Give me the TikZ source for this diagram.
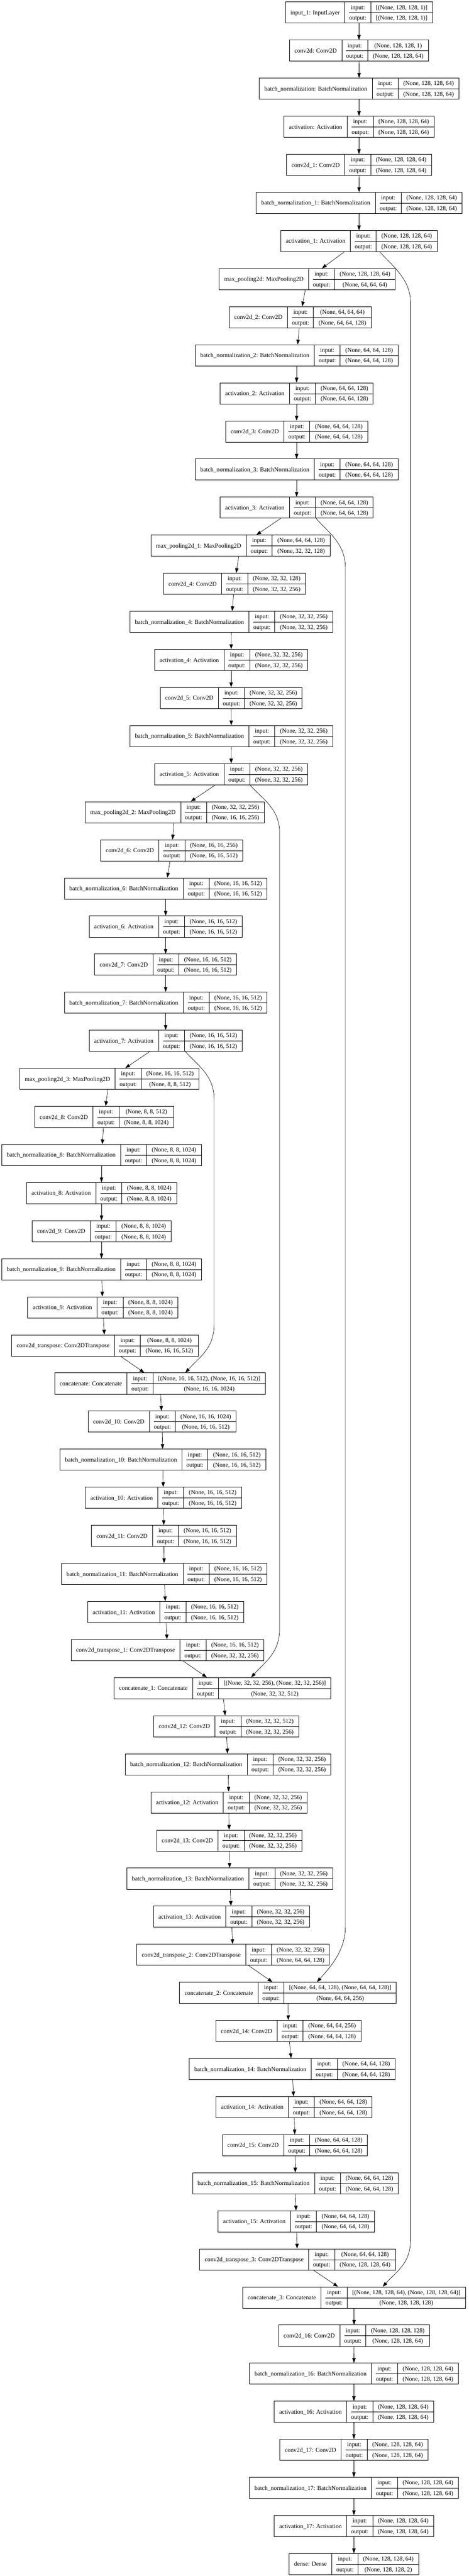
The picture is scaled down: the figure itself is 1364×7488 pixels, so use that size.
\documentclass[tikz,border=0pt]{standalone}
\usepackage{fontspec}
\setmainfont{Liberation Serif}
\usepackage{tikz}
\usetikzlibrary{arrows.meta}
\setlength{\arrayrulewidth}{1pt}
\newcommand{\rowstrut}{\rule[-9.35pt]{0pt}{30.75pt}}
\newcommand{\layerbox}[3]{%
  \renewcommand{\arraystretch}{0}%
  \begin{tabular}{@{\hspace{14.7pt}}c@{\hspace{14.7pt}}|@{\hspace{12.4pt}}c@{\hspace{12.4pt}}|@{\hspace{14.7pt}}c@{\hspace{14.7pt}}}
    \raisebox{-15.375pt}[0pt][0pt]{#1} & input: & #2\rowstrut\\ \cline{2-3}
    & output: & #3\rowstrut
  \end{tabular}}
\tikzset{
  layer/.style={draw, line width=1.3pt, inner sep=0pt, font=\fontsize{17.65}{20}\selectfont},
  edge/.style={line width=1pt, -{Triangle[length=14pt,width=10pt]}}
}
\begin{document}
\begin{tikzpicture}[x=1pt,y=-1pt]
\path[use as bounding box, fill=white] (0,0) rectangle (1364,7488);

\node[layer] (inp) at (1044.3,36.5) {\layerbox{input\_1: InputLayer}{[(None, 128, 128, 1)]}{[(None, 128, 128, 1)]}};
\node[layer] (conv0) at (1044.3,147.2) {\layerbox{conv2d: Conv2D}{(None, 128, 128, 1)}{(None, 128, 128, 64)}};
\node[layer] (bn0) at (1044.7,257.9) {\layerbox{batch\_normalization: BatchNormalization}{(None, 128, 128, 64)}{(None, 128, 128, 64)}};
\node[layer] (act0) at (1044.3,368.6) {\layerbox{activation: Activation}{(None, 128, 128, 64)}{(None, 128, 128, 64)}};
\node[layer] (conv1) at (1044.3,479.3) {\layerbox{conv2d\_1: Conv2D}{(None, 128, 128, 64)}{(None, 128, 128, 64)}};
\node[layer] (bn1) at (1044.7,590.0) {\layerbox{batch\_normalization\_1: BatchNormalization}{(None, 128, 128, 64)}{(None, 128, 128, 64)}};
\node[layer] (act1) at (1044.3,700.7) {\layerbox{activation\_1: Activation}{(None, 128, 128, 64)}{(None, 128, 128, 64)}};
\node[layer] (pool0) at (893.8,811.4) {\layerbox{max\_pooling2d: MaxPooling2D}{(None, 128, 128, 64)}{(None, 64, 64, 64)}};
\node[layer] (conv2) at (873.3,922.1) {\layerbox{conv2d\_2: Conv2D}{(None, 64, 64, 64)}{(None, 64, 64, 128)}};
\node[layer] (bn2) at (862.9,1032.8) {\layerbox{batch\_normalization\_2: BatchNormalization}{(None, 64, 64, 128)}{(None, 64, 64, 128)}};
\node[layer] (act2) at (862.9,1143.5) {\layerbox{activation\_2: Activation}{(None, 64, 64, 128)}{(None, 64, 64, 128)}};
\node[layer] (conv3) at (862.9,1254.2) {\layerbox{conv2d\_3: Conv2D}{(None, 64, 64, 128)}{(None, 64, 64, 128)}};
\node[layer] (bn3) at (862.9,1364.9) {\layerbox{batch\_normalization\_3: BatchNormalization}{(None, 64, 64, 128)}{(None, 64, 64, 128)}};
\node[layer] (act3) at (862.9,1475.6) {\layerbox{activation\_3: Activation}{(None, 64, 64, 128)}{(None, 64, 64, 128)}};
\node[layer] (pool1) at (699.4,1586.3) {\layerbox{max\_pooling2d\_1: MaxPooling2D}{(None, 64, 64, 128)}{(None, 32, 32, 128)}};
\node[layer] (conv4) at (682.0,1697.0) {\layerbox{conv2d\_4: Conv2D}{(None, 32, 32, 128)}{(None, 32, 32, 256)}};
\node[layer] (bn4) at (672.8,1807.7) {\layerbox{batch\_normalization\_4: BatchNormalization}{(None, 32, 32, 256)}{(None, 32, 32, 256)}};
\node[layer] (act4) at (672.4,1918.4) {\layerbox{activation\_4: Activation}{(None, 32, 32, 256)}{(None, 32, 32, 256)}};
\node[layer] (conv5) at (672.4,2029.1) {\layerbox{conv2d\_5: Conv2D}{(None, 32, 32, 256)}{(None, 32, 32, 256)}};
\node[layer] (bn5) at (672.8,2139.8) {\layerbox{batch\_normalization\_5: BatchNormalization}{(None, 32, 32, 256)}{(None, 32, 32, 256)}};
\node[layer] (act5) at (672.4,2250.5) {\layerbox{activation\_5: Activation}{(None, 32, 32, 256)}{(None, 32, 32, 256)}};
\node[layer] (pool2) at (508.4,2361.2) {\layerbox{max\_pooling2d\_2: MaxPooling2D}{(None, 32, 32, 256)}{(None, 16, 16, 256)}};
\node[layer] (conv6) at (499.3,2471.9) {\layerbox{conv2d\_6: Conv2D}{(None, 16, 16, 256)}{(None, 16, 16, 512)}};
\node[layer] (bn6) at (481.9,2582.6) {\layerbox{batch\_normalization\_6: BatchNormalization}{(None, 16, 16, 512)}{(None, 16, 16, 512)}};
\node[layer] (act6) at (481.9,2693.3) {\layerbox{activation\_6: Activation}{(None, 16, 16, 512)}{(None, 16, 16, 512)}};
\node[layer] (conv7) at (481.9,2804.0) {\layerbox{conv2d\_7: Conv2D}{(None, 16, 16, 512)}{(None, 16, 16, 512)}};
\node[layer] (bn7) at (481.9,2914.7) {\layerbox{batch\_normalization\_7: BatchNormalization}{(None, 16, 16, 512)}{(None, 16, 16, 512)}};
\node[layer] (act7) at (481.9,3025.4) {\layerbox{activation\_7: Activation}{(None, 16, 16, 512)}{(None, 16, 16, 512)}};
\node[layer] (pool3) at (317.9,3136.1) {\layerbox{max\_pooling2d\_3: MaxPooling2D}{(None, 16, 16, 512)}{(None, 8, 8, 512)}};
\node[layer] (conv8) at (303.1,3246.8) {\layerbox{conv2d\_8: Conv2D}{(None, 8, 8, 512)}{(None, 8, 8, 1024)}};
\node[layer] (bn8) at (295.3,3357.5) {\layerbox{batch\_normalization\_8: BatchNormalization}{(None, 8, 8, 1024)}{(None, 8, 8, 1024)}};
\node[layer] (act8) at (295.3,3468.2) {\layerbox{activation\_8: Activation}{(None, 8, 8, 1024)}{(None, 8, 8, 1024)}};
\node[layer] (conv9) at (295.3,3578.9) {\layerbox{conv2d\_9: Conv2D}{(None, 8, 8, 1024)}{(None, 8, 8, 1024)}};
\node[layer] (bn9) at (295.3,3689.6) {\layerbox{batch\_normalization\_9: BatchNormalization}{(None, 8, 8, 1024)}{(None, 8, 8, 1024)}};
\node[layer] (act9) at (298.8,3800.3) {\layerbox{activation\_9: Activation}{(None, 8, 8, 1024)}{(None, 8, 8, 1024)}};
\node[layer] (up0) at (305.3,3911.0) {\layerbox{conv2d\_transpose: Conv2DTranspose}{(None, 8, 8, 1024)}{(None, 16, 16, 512)}};
\node[layer] (cat0) at (465.4,4021.7) {\layerbox{concatenate: Concatenate}{[(None, 16, 16, 512), (None, 16, 16, 512)]}{(None, 16, 16, 1024)}};
\node[layer] (conv10) at (471.5,4132.4) {\layerbox{conv2d\_10: Conv2D}{(None, 16, 16, 1024)}{(None, 16, 16, 512)}};
\node[layer] (bn10) at (473.6,4243.1) {\layerbox{batch\_normalization\_10: BatchNormalization}{(None, 16, 16, 512)}{(None, 16, 16, 512)}};
\node[layer] (act10) at (475.4,4353.8) {\layerbox{activation\_10: Activation}{(None, 16, 16, 512)}{(None, 16, 16, 512)}};
\node[layer] (conv11) at (476.7,4464.5) {\layerbox{conv2d\_11: Conv2D}{(None, 16, 16, 512)}{(None, 16, 16, 512)}};
\node[layer] (bn11) at (477.6,4575.2) {\layerbox{batch\_normalization\_11: BatchNormalization}{(None, 16, 16, 512)}{(None, 16, 16, 512)}};
\node[layer] (act11) at (481.9,4685.9) {\layerbox{activation\_11: Activation}{(None, 16, 16, 512)}{(None, 16, 16, 512)}};
\node[layer] (up1) at (487.1,4796.6) {\layerbox{conv2d\_transpose\_1: Conv2DTranspose}{(None, 16, 16, 512)}{(None, 32, 32, 256)}};
\node[layer] (cat1) at (647.2,4907.3) {\layerbox{concatenate\_1: Concatenate}{[(None, 32, 32, 256), (None, 32, 32, 256)]}{(None, 32, 32, 512)}};
\node[layer] (conv12) at (658.0,5018.0) {\layerbox{conv2d\_12: Conv2D}{(None, 32, 32, 512)}{(None, 32, 32, 256)}};
\node[layer] (bn12) at (663.3,5128.7) {\layerbox{batch\_normalization\_12: BatchNormalization}{(None, 32, 32, 256)}{(None, 32, 32, 256)}};
\node[layer] (act12) at (665.9,5239.4) {\layerbox{activation\_12: Activation}{(None, 32, 32, 256)}{(None, 32, 32, 256)}};
\node[layer] (conv13) at (666.8,5350.1) {\layerbox{conv2d\_13: Conv2D}{(None, 32, 32, 256)}{(None, 32, 32, 256)}};
\node[layer] (bn13) at (668.5,5460.8) {\layerbox{batch\_normalization\_13: BatchNormalization}{(None, 32, 32, 256)}{(None, 32, 32, 256)}};
\node[layer] (act13) at (673.3,5571.5) {\layerbox{activation\_13: Activation}{(None, 32, 32, 256)}{(None, 32, 32, 256)}};
\node[layer] (up2) at (678.0,5682.2) {\layerbox{conv2d\_transpose\_2: Conv2DTranspose}{(None, 32, 32, 256)}{(None, 64, 64, 128)}};
\node[layer] (cat2) at (837.7,5792.9) {\layerbox{concatenate\_2: Concatenate}{[(None, 64, 64, 128), (None, 64, 64, 128)]}{(None, 64, 64, 256)}};
\node[layer] (conv14) at (839.0,5903.6) {\layerbox{conv2d\_14: Conv2D}{(None, 64, 64, 256)}{(None, 64, 64, 128)}};
\node[layer] (bn14) at (849.9,6014.3) {\layerbox{batch\_normalization\_14: BatchNormalization}{(None, 64, 64, 128)}{(None, 64, 64, 128)}};
\node[layer] (act14) at (855.5,6125.0) {\layerbox{activation\_14: Activation}{(None, 64, 64, 128)}{(None, 64, 64, 128)}};
\node[layer] (conv15) at (858.1,6235.7) {\layerbox{conv2d\_15: Conv2D}{(None, 64, 64, 128)}{(None, 64, 64, 128)}};
\node[layer] (bn15) at (859.4,6346.4) {\layerbox{batch\_normalization\_15: BatchNormalization}{(None, 64, 64, 128)}{(None, 64, 64, 128)}};
\node[layer] (act15) at (861.6,6457.1) {\layerbox{activation\_15: Activation}{(None, 64, 64, 128)}{(None, 64, 64, 128)}};
\node[layer] (up3) at (865.5,6567.8) {\layerbox{conv2d\_transpose\_3: Conv2DTranspose}{(None, 64, 64, 128)}{(None, 128, 128, 64)}};
\node[layer] (cat3) at (1029.9,6678.5) {\layerbox{concatenate\_3: Concatenate}{[(None, 128, 128, 64), (None, 128, 128, 64)]}{(None, 128, 128, 128)}};
\node[layer] (conv16) at (1029.9,6789.2) {\layerbox{conv2d\_16: Conv2D}{(None, 128, 128, 128)}{(None, 128, 128, 64)}};
\node[layer] (bn16) at (1029.5,6899.9) {\layerbox{batch\_normalization\_16: BatchNormalization}{(None, 128, 128, 64)}{(None, 128, 128, 64)}};
\node[layer] (act16) at (1029.5,7010.6) {\layerbox{activation\_16: Activation}{(None, 128, 128, 64)}{(None, 128, 128, 64)}};
\node[layer] (conv17) at (1029.5,7121.3) {\layerbox{conv2d\_17: Conv2D}{(None, 128, 128, 64)}{(None, 128, 128, 64)}};
\node[layer] (bn17) at (1029.5,7232.0) {\layerbox{batch\_normalization\_17: BatchNormalization}{(None, 128, 128, 64)}{(None, 128, 128, 64)}};
\node[layer] (act17) at (1029.5,7342.7) {\layerbox{activation\_17: Activation}{(None, 128, 128, 64)}{(None, 128, 128, 64)}};
\node[layer] (dense) at (1029.5,7453.4) {\layerbox{dense: Dense}{(None, 128, 128, 64)}{(None, 128, 128, 2)}};

\foreach \a/\b in {inp/conv0, conv0/bn0, bn0/act0, act0/conv1, conv1/bn1, bn1/act1, act1/pool0,
  pool0/conv2, conv2/bn2, bn2/act2, act2/conv3, conv3/bn3, bn3/act3, act3/pool1,
  pool1/conv4, conv4/bn4, bn4/act4, act4/conv5, conv5/bn5, bn5/act5, act5/pool2,
  pool2/conv6, conv6/bn6, bn6/act6, act6/conv7, conv7/bn7, bn7/act7, act7/pool3,
  pool3/conv8, conv8/bn8, bn8/act8, act8/conv9, conv9/bn9, bn9/act9, act9/up0, up0/cat0,
  cat0/conv10, conv10/bn10, bn10/act10, act10/conv11, conv11/bn11, bn11/act11, act11/up1, up1/cat1,
  cat1/conv12, conv12/bn12, bn12/act12, act12/conv13, conv13/bn13, bn13/act13, act13/up2, up2/cat2,
  cat2/conv14, conv14/bn14, bn14/act14, act14/conv15, conv15/bn15, bn15/act15, act15/up3, up3/cat3,
  cat3/conv16, conv16/bn16, bn16/act16, act16/conv17, conv17/bn17, bn17/act17, act17/dense}
  \draw[edge] (\a) -- (\b);

\draw[edge] ([xshift=60.4pt]act1.south) .. controls +(35,40) and +(0,-70) .. (1194.3,880)
  -- (1194.3,6510) .. controls +(0,70) and +(40,-45) .. ([xshift=83.5pt]cat3.north);
\draw[edge] ([xshift=56.6pt]act3.south) .. controls +(35,40) and +(0,-70) .. (1004.7,1650)
  -- (1004.7,5600) .. controls +(0,70) and +(40,-45) .. ([xshift=84.3pt]cat2.north);
\draw[edge] ([xshift=54.8pt]act5.south) .. controls +(35,40) and +(0,-70) .. (813.3,2420)
  -- (813.3,4735) .. controls +(0,70) and +(40,-45) .. ([xshift=83.5pt]cat1.north);
\draw[edge] ([xshift=57.4pt]act7.south) .. controls +(35,40) and +(0,-70) .. (622.8,3195)
  -- (622.8,3850) .. controls +(0,70) and +(40,-45) .. ([xshift=73.9pt]cat0.north);
\end{tikzpicture}
\end{document}
